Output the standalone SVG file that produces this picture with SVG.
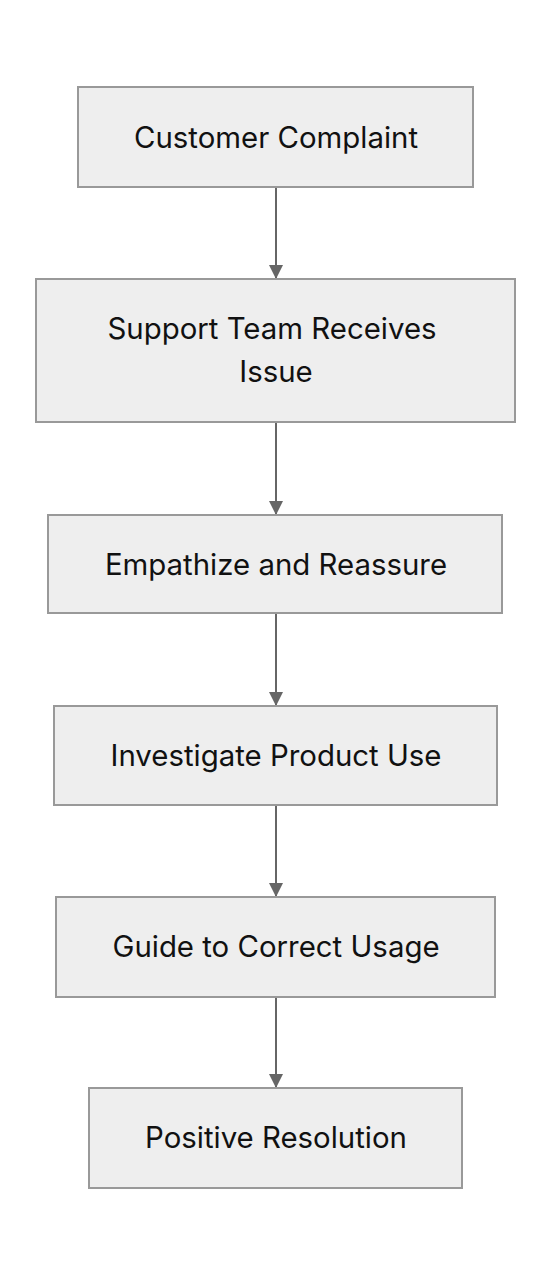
<svg xmlns="http://www.w3.org/2000/svg" width="552" height="1276" viewBox="0 0 552 1276">
<style>
.box{fill:#eeeeee;stroke:#999999;stroke-width:2}
.lbl{font-family:Inter,"Liberation Sans",sans-serif;font-size:29.4px;fill:#111111;text-anchor:middle}
.edge{stroke:#666666;stroke-width:2;fill:none}
</style>
<defs>
<marker id="ah" markerWidth="14" markerHeight="14" refX="14" refY="7" orient="auto" markerUnits="userSpaceOnUse">
<path d="M0,0 L14,7 L0,14 Z" fill="#666666"/>
</marker>
</defs>
<rect width="552" height="1276" fill="#ffffff"/>
<g id="connectors">
<path class="edge" d="M276,187 L276,279" marker-end="url(#ah)"/>
<path class="edge" d="M276,422 L276,515" marker-end="url(#ah)"/>
<path class="edge" d="M276,613 L276,706" marker-end="url(#ah)"/>
<path class="edge" d="M276,805 L276,897" marker-end="url(#ah)"/>
<path class="edge" d="M276,997 L276,1088" marker-end="url(#ah)"/>
</g>
<g id="n1"><rect class="box" x="78" y="87" width="395" height="100"/><text class="lbl" x="276" y="147.5">Customer Complaint</text></g>
<g id="n2"><rect class="box" x="36" y="279" width="479" height="143"/><text class="lbl" x="272" y="338.5">Support Team Receives</text><text class="lbl" x="276" y="382">Issue</text></g>
<g id="n3"><rect class="box" x="48" y="515" width="454" height="98"/><text class="lbl" x="276" y="575">Empathize and Reassure</text></g>
<g id="n4"><rect class="box" x="54" y="706" width="443" height="99"/><text class="lbl" x="276" y="766">Investigate Product Use</text></g>
<g id="n5"><rect class="box" x="56" y="897" width="439" height="100"/><text class="lbl" x="276" y="957">Guide to Correct Usage</text></g>
<g id="n6"><rect class="box" x="89" y="1088" width="373" height="100"/><text class="lbl" x="276" y="1148">Positive Resolution</text></g>
</svg>
